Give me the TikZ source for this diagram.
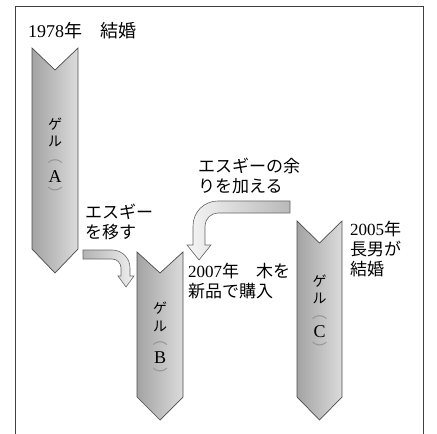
\documentclass[tikz,border=0pt]{standalone}
\usepackage{fontspec}
\setmainfont{Noto Sans CJK JP}
\newfontfamily\lat{Liberation Serif}
\begin{document}
\begin{tikzpicture}[x=1bp,y=-1bp,
  frameline/.style={draw=black!75, line width=0.8bp},
  bigarrow/.style={draw=black!70, line width=0.7bp, left color=gray!72, right color=gray!28},
  arrowone/.style={draw=black!60, line width=0.6bp, left color=gray!60, right color=gray!12},
  arrowtwo/.style={draw=black!60, line width=0.6bp, left color=gray!8, right color=gray!55},
  lbl/.style={inner sep=0pt, anchor=west, align=left, font=\fontsize{17bp}{20bp}\selectfont},
  vchar/.style={inner sep=0pt, font=\fontsize{14bp}{14bp}\selectfont},
  vlet/.style={inner sep=0pt, font=\lat\fontsize{18bp}{18bp}\selectfont},
  vbr/.style={inner sep=0pt, text=gray!85, font=\fontsize{15bp}{15bp}\selectfont}]
\useasboundingbox (0,0) rectangle (437,434);
% frame
\draw[frameline] (15,434) -- (15,6) -- (423,6) -- (423,434);
% big arrows
\path[bigarrow] (32,48) -- (55,70) -- (78,48) -- (78,249) -- (55,273) -- (32,249) -- cycle;
\path[bigarrow] (137,252) -- (160,273) -- (183,252) -- (183,397) -- (160,420) -- (137,397) -- cycle;
\path[bigarrow] (297,221) -- (319.5,243) -- (342,221) -- (342,397) -- (319.5,420) -- (297,397) -- cycle;
% small arrow from A to B
\path[arrowone] (83,250) -- (112,250) .. controls (122,250) and (130,258) .. (130,268)
  -- (130,276) -- (134,276) -- (126,287) -- (118,276) -- (121,276) -- (121,268)
  .. controls (121,263) and (117,259) .. (112,259) -- (83,259) -- cycle;
% small arrow into B
\path[arrowtwo] (290,201) -- (218,201) .. controls (204,201) and (193,212) .. (193,226)
  -- (193,245) -- (187,245) -- (199,260) -- (211,245) -- (205,245) -- (205,226)
  .. controls (205,219) and (211,213) .. (218,213) -- (290,213) -- cycle;
% labels
\node[lbl, font=\fontsize{18bp}{20bp}\selectfont] (t1978) at (28,31) {{\lat 1978}年　結婚};
\node[lbl] (tmove) at (85,221.5) {エスギー\\を移す};
\node[lbl] (tadd) at (198,175.5) {エスギーの余\\りを加える};
\node[lbl] (t2007) at (188,281) {{\lat 2007}年　木を\\新品で購入};
\node[lbl] (t2005) at (350,249) {{\lat 2005}年\\長男が\\結婚};
% vertical text A
\node[vchar] (ga1) at (55,124) {ゲ};
\node[vchar] (ga2) at (55,141) {ル};
\node[vbr] (ga3) at (55,162) {︵};
\node[vlet] (ga4) at (55,177) {A};
\node[vbr] (ga5) at (55,193) {︶};
% vertical text B
\node[vchar] (gb1) at (160,308) {ゲ};
\node[vchar] (gb2) at (160,326) {ル};
\node[vbr] (gb3) at (160,344) {︵};
\node[vlet] (gb4) at (160,358) {B};
\node[vbr] (gb5) at (160,374) {︶};
% vertical text C
\node[vchar] (gc1) at (319.5,281) {ゲ};
\node[vchar] (gc2) at (319.5,298) {ル};
\node[vbr] (gc3) at (319.5,318) {︵};
\node[vlet] (gc4) at (319.5,332) {C};
\node[vbr] (gc5) at (319.5,348) {︶};
\end{tikzpicture}
\end{document}
